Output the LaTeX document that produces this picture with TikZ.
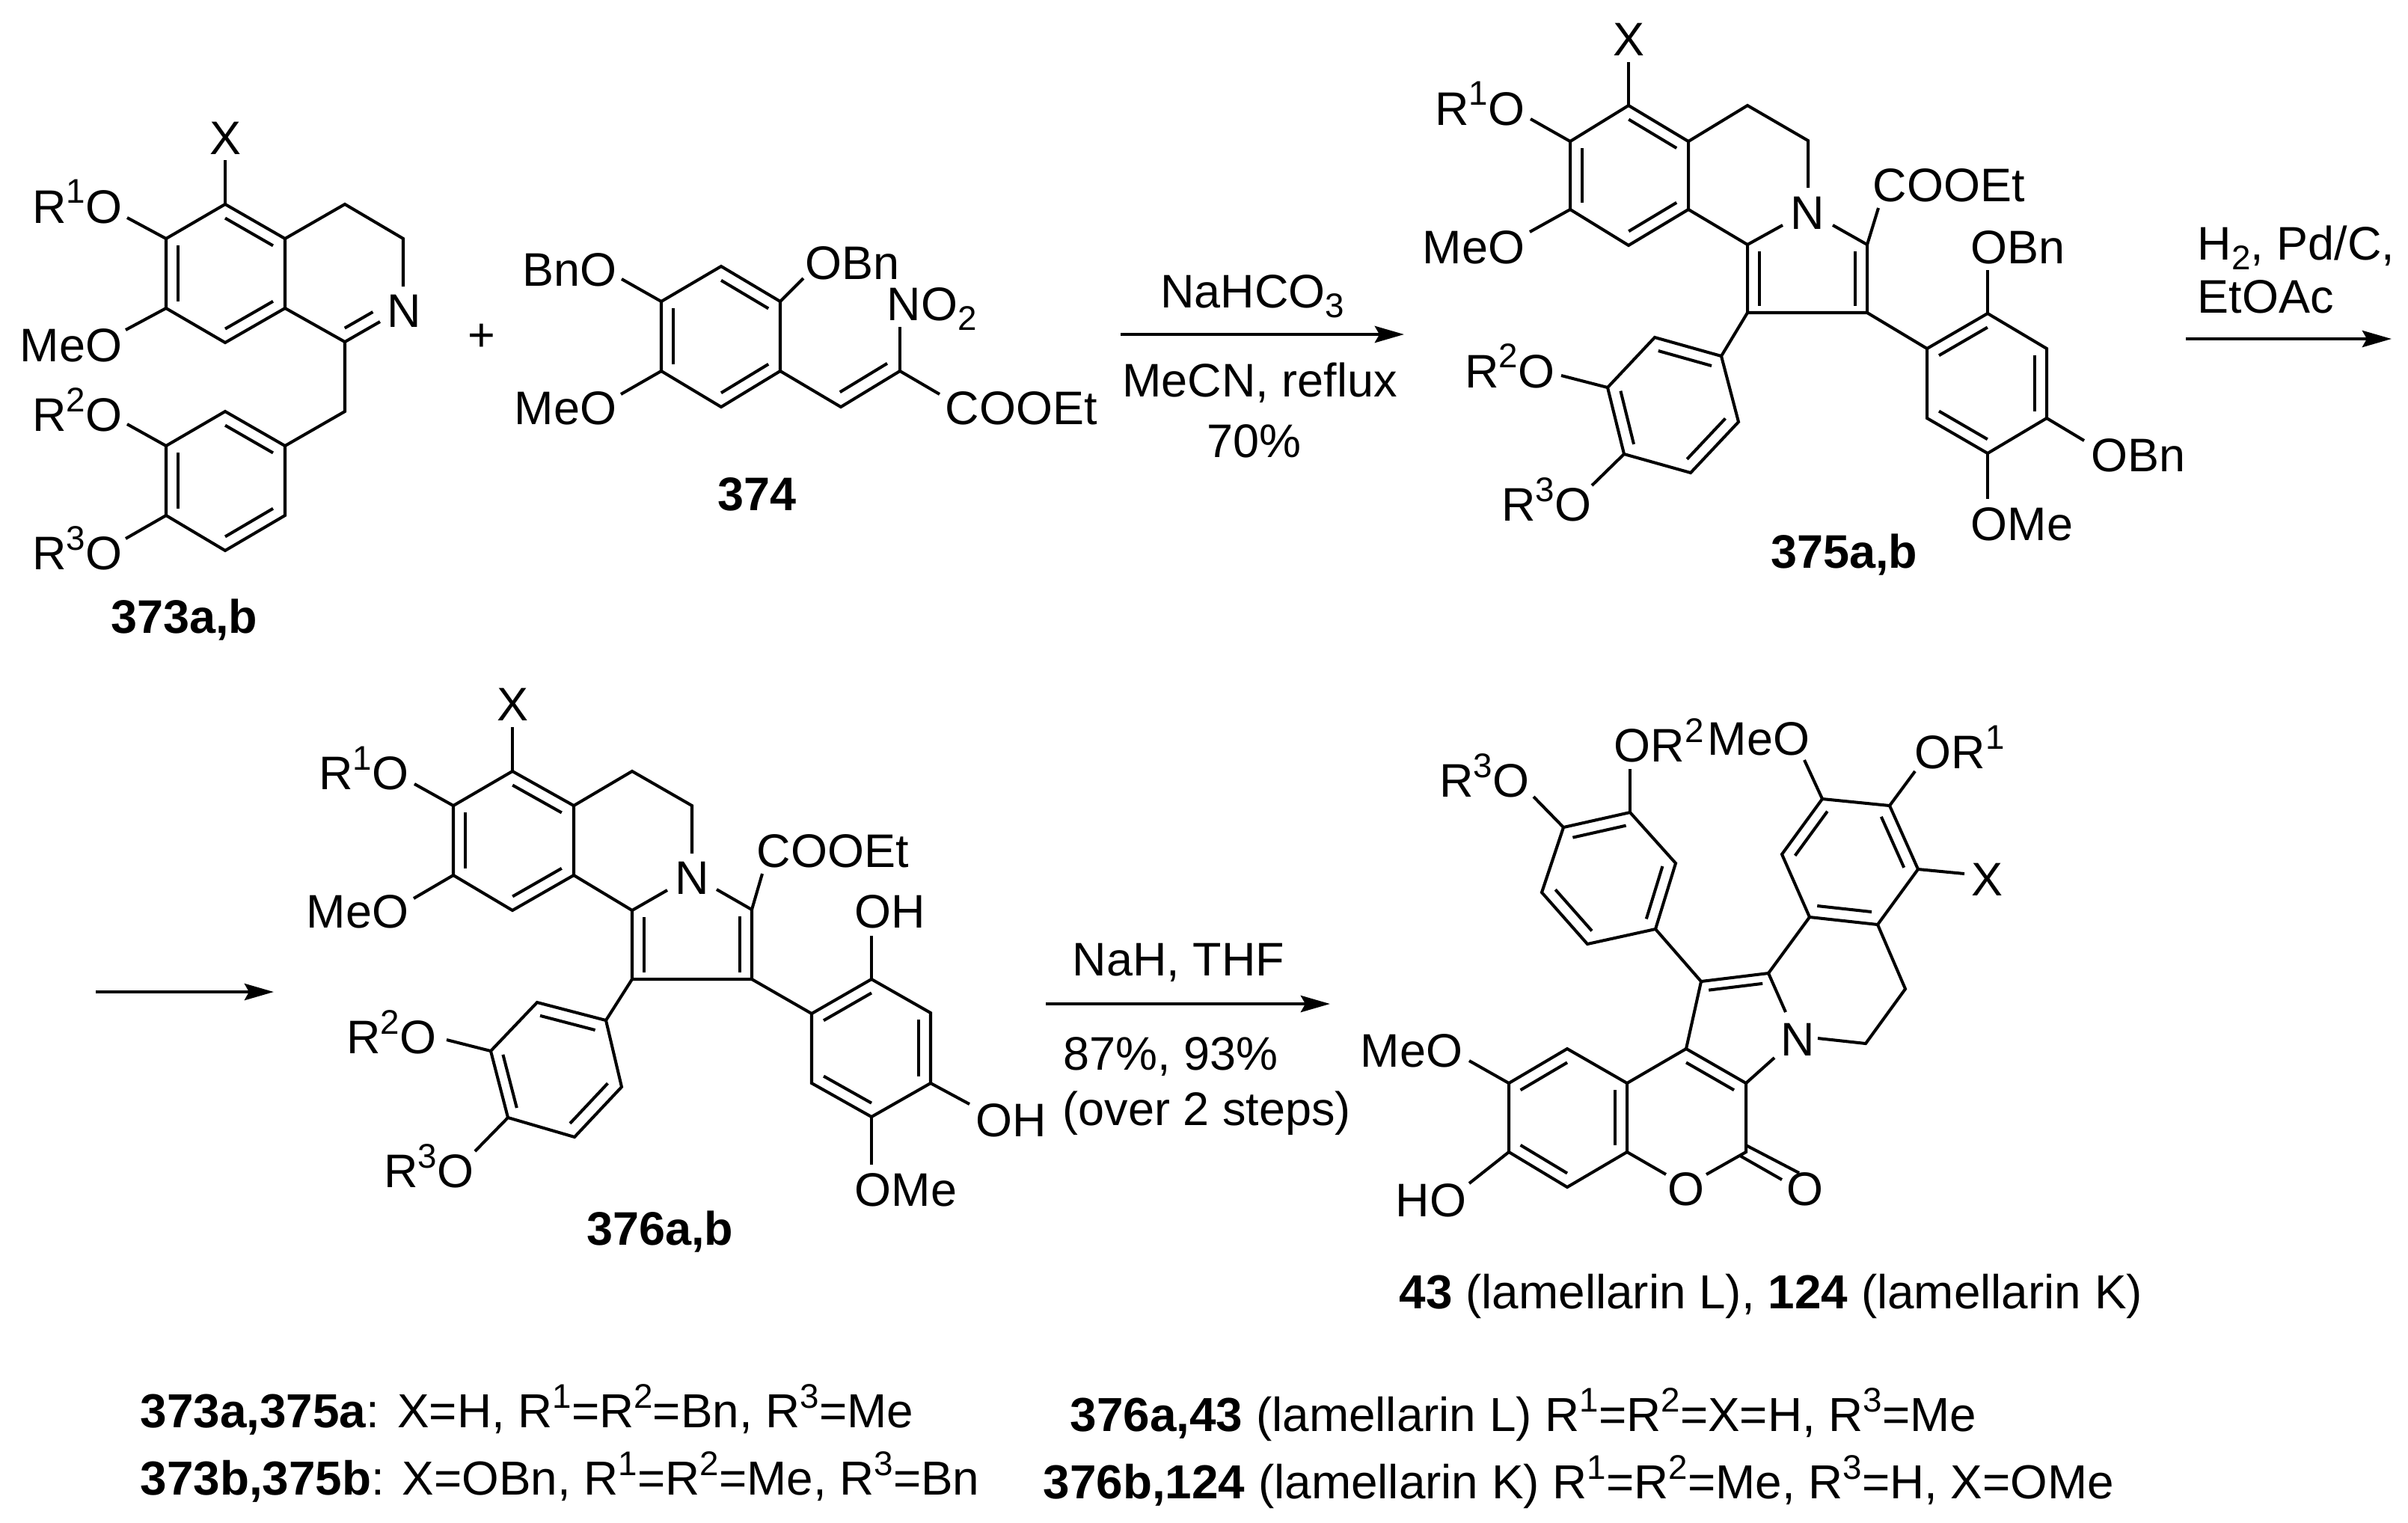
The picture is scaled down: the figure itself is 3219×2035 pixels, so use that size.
\documentclass[tikz,border=0pt]{standalone}
\usepackage{fontspec}
\setmainfont{Liberation Sans}
\usetikzlibrary{calc,arrows.meta}
\newcommand{\chup}[1]{\raisebox{7.4pt}{\fontsize{13}{13}\selectfont #1}}
\newcommand{\chdn}[1]{\raisebox{-3.7pt}{\fontsize{13}{13}\selectfont #1}}
\newcommand{\inbond}[3]{\draw[bond] ($(#1)!0.2!(#3)$) -- ($(#2)!0.2!(#3)$);}
\tikzset{
	every node/.style={inner sep=0pt,font=\fontsize{17.9}{21}\selectfont},
	bond/.style={line width=1.15pt,line join=miter},
	rxn/.style={line width=1.4pt,-{Stealth[length=0.39cm,width=0.22cm,inset=0.06cm]}},
	lab/.style={anchor=base west},
	labr/.style={anchor=base east},
	labc/.style={anchor=base},
	tabl/.style={anchor=base west,font=\fontsize{18.15}{21}\selectfont}
}
\begin{document}
\begin{tikzpicture}[x=0.01cm,y=-0.01cm]
	\useasboundingbox (0,0) rectangle (3219,2035);
% 373a,b
	\coordinate (Aa1) at (301,273);
	\coordinate (Aa2) at (381,319);
	\coordinate (Aa3) at (381,412);
	\coordinate (Aa4) at (301,458);
	\coordinate (Aa5) at (222,412);
	\coordinate (Aa6) at (222,319);
	\coordinate (Aacen) at (301,366);
	\coordinate (Ab1) at (461,273);
	\coordinate (Ab2) at (539,319);
	\coordinate (Ab3) at (539,383);
	\coordinate (Ab4) at (508,430);
	\coordinate (Ab5) at (461,457);
	\coordinate (Abcen) at (460,365);
	\coordinate (Ach) at (461,550);
	\coordinate (Ar1) at (381,596);
	\coordinate (Ar2) at (301,550);
	\coordinate (Ar3) at (222,596);
	\coordinate (Ar4) at (222,689);
	\coordinate (Ar5) at (301,736);
	\coordinate (Ar6) at (381,689);
	\coordinate (Arcen) at (301,643);
	\coordinate (Axe) at (301,214);
	\coordinate (AR1e) at (170,291);
	\coordinate (AMe) at (168,441);
	\coordinate (AR2e) at (170,567);
	\coordinate (AR3e) at (168,720);
	\draw[bond] (Aa1) -- (Aa2) -- (Aa3) -- (Aa4) -- (Aa5) -- (Aa6) -- cycle;
	\draw[bond] (Aa2) -- (Ab1) -- (Ab2) -- (Ab3);
	\draw[bond] (Aa3) -- (Ab5) -- (Ab4);
	\draw[bond] (Ab5) -- (Ach) -- (Ar1);
	\draw[bond] (Ar1) -- (Ar2) -- (Ar3) -- (Ar4) -- (Ar5) -- (Ar6) -- cycle;
	\draw[bond] (Aa1) -- (Axe);
	\draw[bond] (Aa6) -- (AR1e);
	\draw[bond] (Aa5) -- (AMe);
	\draw[bond] (Ar3) -- (AR2e);
	\draw[bond] (Ar4) -- (AR3e);
	\inbond{Aa1}{Aa2}{Aacen}
	\inbond{Aa3}{Aa4}{Aacen}
	\inbond{Aa5}{Aa6}{Aacen}
	\inbond{Ab5}{Ab4}{Abcen}
	\inbond{Ar1}{Ar2}{Arcen}
	\inbond{Ar3}{Ar4}{Arcen}
	\inbond{Ar5}{Ar6}{Arcen}
	\node[labc] (Ax) at (301,206) {X};
	\node[labr] (AR1) at (164,298) {R\chup{1}O};
	\node[labr] (AMeO) at (164,483) {MeO};
	\node[labr] (AR2) at (164,576) {R\chup{2}O};
	\node[labr] (AR3) at (164,761) {R\chup{3}O};
	\node[labc] (AN) at (540,437) {N};
	\node[labc] (Aname) at (246,846) {\textbf{373a,b}};
	\node (plus) at (644,451) {+};
% 374
	\coordinate (Ba1) at (964,356);
	\coordinate (Ba2) at (1043,403);
	\coordinate (Ba3) at (1043,496);
	\coordinate (Ba4) at (964,544);
	\coordinate (Ba5) at (884,496);
	\coordinate (Ba6) at (884,403);
	\coordinate (Bacen) at (964,450);
	\coordinate (Bv1) at (1124,544);
	\coordinate (Bv2) at (1203,496);
	\coordinate (Bvcen) at (1118,445);
	\coordinate (BBne) at (831,373);
	\coordinate (BOBne) at (1074,372);
	\coordinate (BNe) at (1203,437);
	\coordinate (BCOe) at (1256,527);
	\coordinate (BMe) at (830,527);
	\draw[bond] (Ba1) -- (Ba2) -- (Ba3) -- (Ba4) -- (Ba5) -- (Ba6) -- cycle;
	\draw[bond] (Ba3) -- (Bv1) -- (Bv2) -- (BCOe);
	\draw[bond] (Bv2) -- (BNe);
	\draw[bond] (Ba6) -- (BBne);
	\draw[bond] (Ba2) -- (BOBne);
	\draw[bond] (Ba5) -- (BMe);
	\inbond{Ba1}{Ba2}{Bacen}
	\inbond{Ba3}{Ba4}{Bacen}
	\inbond{Ba5}{Ba6}{Bacen}
	\inbond{Bv1}{Bv2}{Bvcen}
	\node[labr] (BBn) at (825,382) {BnO};
	\node[lab] (BOBn) at (1076,373) {OBn};
	\node[lab] (BNO) at (1185,428) {NO\chdn{2}};
	\node[lab] (BCO) at (1263,567) {COOEt};
	\node[labr] (BMeO) at (825,567) {MeO};
	\node[labc] (Bname) at (1012,682) {\textbf{374}};
% first arrow
	\coordinate (R1s) at (1498,447);
	\coordinate (R1e) at (1877,447);
	\draw[rxn] (R1s) -- (R1e);
	\node[labc] (R1a) at (1674,411) {NaHCO\chdn{3}};
	\node[labc] (R1b) at (1684,530) {MeCN, reflux};
	\node[labc] (R1c) at (1676,611) {70\%};
% 375a,b
	\coordinate (Ca1) at (2177,141);
	\coordinate (Ca2) at (2257,189);
	\coordinate (Ca3) at (2257,280);
	\coordinate (Ca4) at (2177,328);
	\coordinate (Ca5) at (2099,280);
	\coordinate (Ca6) at (2099,189);
	\coordinate (Cacen) at (2178,234);
	\coordinate (Cb1) at (2336,141);
	\coordinate (Cb2) at (2417,188);
	\coordinate (Cb3) at (2417,251);
	\coordinate (Cn1) at (2383,301);
	\coordinate (Cn2) at (2450,301);
	\coordinate (Cy1) at (2336,327);
	\coordinate (Cy2) at (2336,418);
	\coordinate (Cy3) at (2496,418);
	\coordinate (Cy4) at (2496,327);
	\coordinate (Cycen) at (2416,372);
	\coordinate (Cp1) at (2301,476);
	\coordinate (Cp2) at (2212,451);
	\coordinate (Cp3) at (2149,518);
	\coordinate (Cp4) at (2171,607);
	\coordinate (Cp5) at (2260,632);
	\coordinate (Cp6) at (2324,564);
	\coordinate (Cpcen) at (2236,541);
	\coordinate (Cq1) at (2576,466);
	\coordinate (Cq2) at (2657,419);
	\coordinate (Cq3) at (2736,466);
	\coordinate (Cq4) at (2736,559);
	\coordinate (Cq5) at (2657,606);
	\coordinate (Cq6) at (2576,559);
	\coordinate (Cqcen) at (2656,512);
	\coordinate (Cxe) at (2177,83);
	\coordinate (CR1e) at (2046,159);
	\coordinate (CMe) at (2045,310);
	\coordinate (CCOe) at (2511,278);
	\coordinate (CR2e) at (2087,502);
	\coordinate (CR3e) at (2128,649);
	\coordinate (COBe) at (2657,361);
	\coordinate (COBf) at (2786,589);
	\coordinate (COMe) at (2657,667);
	\draw[bond] (Ca1) -- (Ca2) -- (Ca3) -- (Ca4) -- (Ca5) -- (Ca6) -- cycle;
	\draw[bond] (Ca2) -- (Cb1) -- (Cb2) -- (Cb3);
	\draw[bond] (Ca3) -- (Cy1) -- (Cn1);
	\draw[bond] (Cy1) -- (Cy2) -- (Cy3) -- (Cy4) -- (Cn2);
	\draw[bond] (Cy2) -- (Cp1);
	\draw[bond] (Cy3) -- (Cq1);
	\draw[bond] (Cy4) -- (CCOe);
	\draw[bond] (Cp1) -- (Cp2) -- (Cp3) -- (Cp4) -- (Cp5) -- (Cp6) -- cycle;
	\draw[bond] (Cq1) -- (Cq2) -- (Cq3) -- (Cq4) -- (Cq5) -- (Cq6) -- cycle;
	\draw[bond] (Ca1) -- (Cxe);
	\draw[bond] (Ca6) -- (CR1e);
	\draw[bond] (Ca5) -- (CMe);
	\draw[bond] (Cp3) -- (CR2e);
	\draw[bond] (Cp4) -- (CR3e);
	\draw[bond] (Cq2) -- (COBe);
	\draw[bond] (Cq4) -- (COBf);
	\draw[bond] (Cq5) -- (COMe);
	\inbond{Ca1}{Ca2}{Cacen}
	\inbond{Ca3}{Ca4}{Cacen}
	\inbond{Ca5}{Ca6}{Cacen}
	\inbond{Cy1}{Cy2}{Cycen}
	\inbond{Cy3}{Cy4}{Cycen}
	\inbond{Cp1}{Cp2}{Cpcen}
	\inbond{Cp3}{Cp4}{Cpcen}
	\inbond{Cp5}{Cp6}{Cpcen}
	\inbond{Cq1}{Cq2}{Cqcen}
	\inbond{Cq3}{Cq4}{Cqcen}
	\inbond{Cq5}{Cq6}{Cqcen}
	\node[labc] (Cx) at (2177,74) {X};
	\node[labr] (CR1) at (2039,167) {R\chup{1}O};
	\node[labr] (CMeO) at (2039,352) {MeO};
	\node[lab] (CCO) at (2503,269) {COOEt};
	\node[labc] (CN) at (2416,306) {N};
	\node[lab] (COB1) at (2634,352) {OBn};
	\node[lab] (COB2) at (2795,630) {OBn};
	\node[lab] (COM) at (2634,722) {OMe};
	\node[labr] (CR2) at (2079,518) {R\chup{2}O};
	\node[labr] (CR3) at (2128,696) {R\chup{3}O};
	\node[labc] (Cname) at (2465,759) {\textbf{375a,b}};
% arrow broken over two rows
	\coordinate (R2s) at (2922,453);
	\coordinate (R2e) at (3197,453);
	\draw[rxn] (R2s) -- (R2e);
	\node[lab] (R2a) at (2937,347) {H\chdn{2}, Pd/C,};
	\node[lab] (R2b) at (2937,418) {EtOAc};
	\coordinate (R3s) at (128,1326);
	\coordinate (R3e) at (366,1326);
	\draw[rxn] (R3s) -- (R3e);
% 376a,b
	\coordinate (Da1) at (685,1031);
	\coordinate (Da2) at (767,1077);
	\coordinate (Da3) at (767,1170);
	\coordinate (Da4) at (685,1217);
	\coordinate (Da5) at (606,1170);
	\coordinate (Da6) at (606,1077);
	\coordinate (Dacen) at (686,1124);
	\coordinate (Db1) at (845,1031);
	\coordinate (Db2) at (925,1077);
	\coordinate (Db3) at (925,1141);
	\coordinate (Dn1) at (892,1190);
	\coordinate (Dn2) at (958,1189);
	\coordinate (Dy1) at (845,1217);
	\coordinate (Dy2) at (845,1309);
	\coordinate (Dy3) at (1005,1309);
	\coordinate (Dy4) at (1005,1216);
	\coordinate (Dycen) at (925,1263);
	\coordinate (Dp1) at (810,1364);
	\coordinate (Dp2) at (718,1340);
	\coordinate (Dp3) at (656,1405);
	\coordinate (Dp4) at (679,1494);
	\coordinate (Dp5) at (768,1520);
	\coordinate (Dp6) at (831,1453);
	\coordinate (Dpcen) at (738,1429);
	\coordinate (Dq1) at (1085,1355);
	\coordinate (Dq2) at (1165,1309);
	\coordinate (Dq3) at (1244,1354);
	\coordinate (Dq4) at (1244,1448);
	\coordinate (Dq5) at (1165,1493);
	\coordinate (Dq6) at (1085,1448);
	\coordinate (Dqcen) at (1165,1401);
	\coordinate (Dxe) at (685,972);
	\coordinate (DR1e) at (554,1048);
	\coordinate (DMe) at (553,1201);
	\coordinate (DCOe) at (1019,1168);
	\coordinate (DR2e) at (597,1390);
	\coordinate (DR3e) at (635,1539);
	\coordinate (DOHe) at (1165,1251);
	\coordinate (DOHf) at (1296,1476);
	\coordinate (DOMe) at (1165,1557);
	\draw[bond] (Da1) -- (Da2) -- (Da3) -- (Da4) -- (Da5) -- (Da6) -- cycle;
	\draw[bond] (Da2) -- (Db1) -- (Db2) -- (Db3);
	\draw[bond] (Da3) -- (Dy1) -- (Dn1);
	\draw[bond] (Dy1) -- (Dy2) -- (Dy3) -- (Dy4) -- (Dn2);
	\draw[bond] (Dy2) -- (Dp1);
	\draw[bond] (Dy3) -- (Dq1);
	\draw[bond] (Dy4) -- (DCOe);
	\draw[bond] (Dp1) -- (Dp2) -- (Dp3) -- (Dp4) -- (Dp5) -- (Dp6) -- cycle;
	\draw[bond] (Dq1) -- (Dq2) -- (Dq3) -- (Dq4) -- (Dq5) -- (Dq6) -- cycle;
	\draw[bond] (Da1) -- (Dxe);
	\draw[bond] (Da6) -- (DR1e);
	\draw[bond] (Da5) -- (DMe);
	\draw[bond] (Dp3) -- (DR2e);
	\draw[bond] (Dp4) -- (DR3e);
	\draw[bond] (Dq2) -- (DOHe);
	\draw[bond] (Dq4) -- (DOHf);
	\draw[bond] (Dq5) -- (DOMe);
	\inbond{Da1}{Da2}{Dacen}
	\inbond{Da3}{Da4}{Dacen}
	\inbond{Da5}{Da6}{Dacen}
	\inbond{Dy1}{Dy2}{Dycen}
	\inbond{Dy3}{Dy4}{Dycen}
	\inbond{Dp1}{Dp2}{Dpcen}
	\inbond{Dp3}{Dp4}{Dpcen}
	\inbond{Dp5}{Dp6}{Dpcen}
	\inbond{Dq1}{Dq2}{Dqcen}
	\inbond{Dq3}{Dq4}{Dqcen}
	\inbond{Dq5}{Dq6}{Dqcen}
	\node[labc] (Dx) at (685,963) {X};
	\node[labr] (DR1) at (547,1055) {R\chup{1}O};
	\node[labr] (DMeO) at (547,1240) {MeO};
	\node[lab] (DCO) at (1011,1159) {COOEt};
	\node[labc] (DN) at (925,1195) {N};
	\node[lab] (DOH1) at (1142,1240) {OH};
	\node[lab] (DOH2) at (1304,1519) {OH};
	\node[lab] (DOM) at (1142,1612) {OMe};
	\node[labr] (DR2) at (584,1408) {R\chup{2}O};
	\node[labr] (DR3) at (634,1587) {R\chup{3}O};
	\node[labc] (Dname) at (882,1664) {\textbf{376a,b}};
% last arrow
	\coordinate (R4s) at (1398,1342);
	\coordinate (R4e) at (1778,1342);
	\draw[rxn] (R4s) -- (R4e);
	\node[lab] (R4a) at (1433,1304) {NaH, THF};
	\node[lab] (R4b) at (1421,1430) {87\%, 93\%};
	\node[lab] (R4c) at (1420,1504) {(over 2 steps)};
% lamellarins
	\coordinate (Ep1) at (2213,1242);
	\coordinate (Ep2) at (2240,1154);
	\coordinate (Ep3) at (2179,1086);
	\coordinate (Ep4) at (2090,1106);
	\coordinate (Ep5) at (2061,1193);
	\coordinate (Ep6) at (2122,1262);
	\coordinate (Epcen) at (2152,1174);
	\coordinate (Ed1) at (2510,1236);
	\coordinate (Ed2) at (2419,1226);
	\coordinate (Ed3) at (2382,1142);
	\coordinate (Ed4) at (2436,1068);
	\coordinate (Ed5) at (2526,1077);
	\coordinate (Ed6) at (2564,1162);
	\coordinate (Edcen) at (2470,1151);
	\coordinate (Ey1) at (2274,1312);
	\coordinate (Ey2) at (2364,1301);
	\coordinate (Ey3) at (2387,1353);
	\coordinate (Ey4) at (2372,1414);
	\coordinate (Eycen) at (2325,1370);
	\coordinate (Ec1) at (2254,1402);
	\coordinate (Ec2) at (2334,1448);
	\coordinate (Ec3) at (2334,1540);
	\coordinate (Ec4) at (2281,1570);
	\coordinate (Ec5) at (2227,1570);
	\coordinate (Ec6) at (2175,1540);
	\coordinate (Ec7) at (2175,1448);
	\coordinate (Eccen) at (2254,1494);
	\coordinate (Eb1) at (2095,1402);
	\coordinate (Eb2) at (2017,1448);
	\coordinate (Eb3) at (2017,1540);
	\coordinate (Eb4) at (2095,1587);
	\coordinate (Ebcen) at (2095,1494);
	\coordinate (Eh1) at (2430,1388);
	\coordinate (Eh2) at (2494,1395);
	\coordinate (Eh3) at (2547,1322);
	\coordinate (Eco1) at (2334,1531);
	\coordinate (Eco2) at (2405,1568);
	\coordinate (Eco3) at (2326,1545);
	\coordinate (Eco4) at (2382,1577);
	\coordinate (ER3e) at (2050,1065);
	\coordinate (ER2e) at (2179,1028);
	\coordinate (EMe) at (2412,1016);
	\coordinate (ER1e) at (2560,1031);
	\coordinate (Exe) at (2626,1168);
	\coordinate (EMf) at (1964,1418);
	\coordinate (EHOe) at (1964,1582);
	\draw[bond] (Ep1) -- (Ep2) -- (Ep3) -- (Ep4) -- (Ep5) -- (Ep6) -- cycle;
	\draw[bond] (Ed1) -- (Ed2) -- (Ed3) -- (Ed4) -- (Ed5) -- (Ed6) -- cycle;
	\draw[bond] (Ep1) -- (Ey1) -- (Ey2) -- (Ey3);
	\draw[bond] (Ey2) -- (Ed2);
	\draw[bond] (Ed1) -- (Eh3) -- (Eh2) -- (Eh1);
	\draw[bond] (Ey1) -- (Ec1) -- (Ec2) -- (Ey4);
	\draw[bond] (Ec2) -- (Ec3) -- (Ec4);
	\draw[bond] (Ec5) -- (Ec6);
	\draw[bond] (Ec1) -- (Ec7);
	\draw[bond] (Ec7) -- (Eb1) -- (Eb2) -- (Eb3) -- (Eb4) -- (Ec6) -- cycle;
	\draw[bond] (Eco1) -- (Eco2);
	\draw[bond] (Eco3) -- (Eco4);
	\draw[bond] (Ep4) -- (ER3e);
	\draw[bond] (Ep3) -- (ER2e);
	\draw[bond] (Ed4) -- (EMe);
	\draw[bond] (Ed5) -- (ER1e);
	\draw[bond] (Ed6) -- (Exe);
	\draw[bond] (Eb2) -- (EMf);
	\draw[bond] (Eb3) -- (EHOe);
	\inbond{Ep1}{Ep2}{Epcen}
	\inbond{Ep3}{Ep4}{Epcen}
	\inbond{Ep5}{Ep6}{Epcen}
	\inbond{Ed1}{Ed2}{Edcen}
	\inbond{Ed3}{Ed4}{Edcen}
	\inbond{Ed5}{Ed6}{Edcen}
	\inbond{Ey1}{Ey2}{Eycen}
	\inbond{Ec1}{Ec2}{Eccen}
	\inbond{Ec6}{Ec7}{Ebcen}
	\inbond{Eb1}{Eb2}{Ebcen}
	\inbond{Eb3}{Eb4}{Ebcen}
	\node[labr] (ER3) at (2045,1065) {R\chup{3}O};
	\node[lab] (ER2) at (2157,1018) {OR\chup{2}};
	\node[labr] (EMeO) at (2420,1009) {MeO};
	\node[lab] (ER1) at (2559,1027) {OR\chup{1}};
	\node[labc] (Ex) at (2656,1197) {X};
	\node[labc] (EN) at (2403,1411) {N};
	\node[labr] (EMeOb) at (1956,1426) {MeO};
	\node[labr] (EHO) at (1961,1626) {HO};
	\node[labc] (EOa) at (2254,1611) {O};
	\node[labc] (EOb) at (2413,1611) {O};
	\node[tabl] (Ename) at (1870,1749) {\textbf{43} (lamellarin L), \textbf{124} (lamellarin K)};
% table below
	\node[tabl] (T1) at (187,1908) {\textbf{373a,375a}: X=H, R\chup{1}=R\chup{2}=Bn, R\chup{3}=Me};
	\node[tabl] (T2) at (187,1998) {\textbf{373b,375b}: X=OBn, R\chup{1}=R\chup{2}=Me, R\chup{3}=Bn};
	\node[tabl] (T3) at (1430,1913) {\textbf{376a,43} (lamellarin L) R\chup{1}=R\chup{2}=X=H, R\chup{3}=Me};
	\node[tabl] (T4) at (1394,2003) {\textbf{376b,124} (lamellarin K) R\chup{1}=R\chup{2}=Me, R\chup{3}=H, X=OMe};
\end{tikzpicture}
\end{document}
